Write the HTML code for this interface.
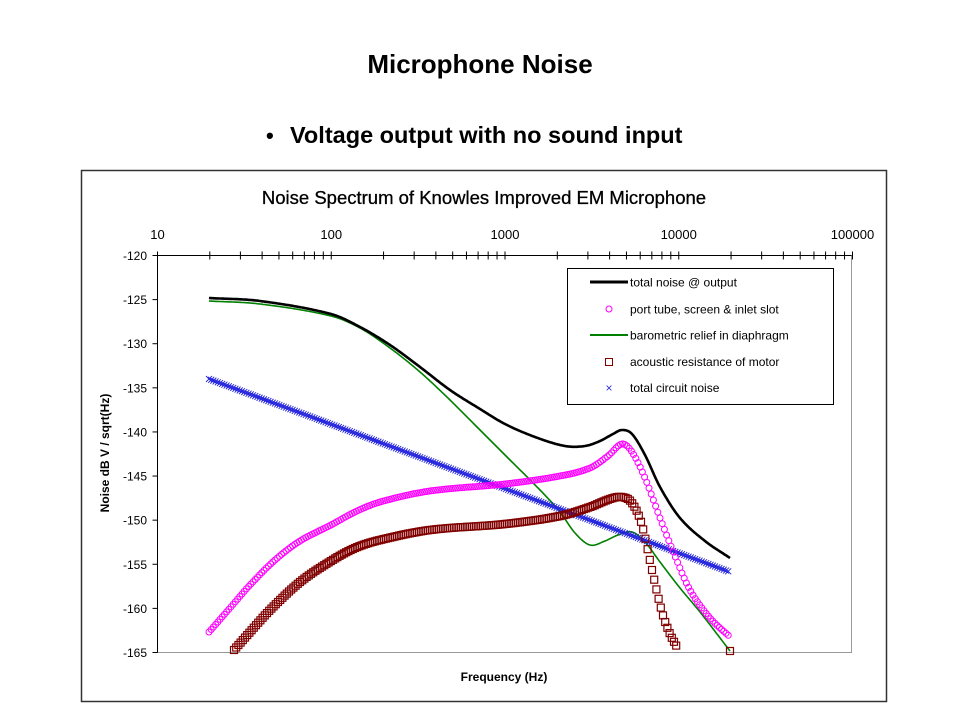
<!DOCTYPE html>
<html><head><meta charset="utf-8"><style>
body{margin:0;background:#fff;width:960px;height:720px;overflow:hidden;font-family:"Liberation Sans",Arial,sans-serif}
</style></head><body>
<svg id="s" width="960" height="720" xmlns="http://www.w3.org/2000/svg" font-family="Liberation Sans, Arial, sans-serif">
<text x="480" y="73" text-anchor="middle" font-size="26" font-weight="bold">Microphone Noise</text>
<text x="266" y="143" font-size="22" font-weight="bold">•</text>
<text x="290" y="143" font-size="23.5" font-weight="bold">Voltage output with no sound input</text>
<rect x="81.5" y="170.5" width="805" height="531" fill="none" stroke="#333" stroke-width="1.5"/>
<text x="484" y="204" text-anchor="middle" font-size="18.5" stroke="#000" stroke-width="0.3">Noise Spectrum of Knowles Improved EM Microphone</text>
<rect x="157.5" y="255.5" width="694" height="397" fill="none" stroke="#999" stroke-width="1"/>
<g id="ax"></g>
<g id="data"></g>
<text transform="translate(109,453) rotate(-90)" text-anchor="middle" font-size="12" font-weight="bold">Noise dB V / sqrt(Hz)</text>
<text x="504" y="681" text-anchor="middle" font-size="12" font-weight="bold">Frequency (Hz)</text>
<rect x="567.5" y="268.5" width="266" height="136" fill="#fff" stroke="#000"/>
<line x1="590" y1="282" x2="628" y2="282" stroke="#000" stroke-width="3"/>
<text x="630" y="286.5" font-size="12">total noise @ output</text>
<circle cx="609" cy="309" r="3" fill="none" stroke="#ff00ff"/>
<text x="630" y="313.5" font-size="12">port tube, screen &amp; inlet slot</text>
<line x1="590" y1="335" x2="628" y2="335" stroke="#008000" stroke-width="2"/>
<text x="630" y="339.5" font-size="12">barometric relief in diaphragm</text>
<rect x="605.5" y="358.5" width="7" height="7" fill="none" stroke="#800000"/>
<text x="630" y="366" font-size="12">acoustic resistance of motor</text>
<text x="609" y="392" font-size="12" fill="#3333cc" text-anchor="middle">×</text>
<text x="630" y="392" font-size="12">total circuit noise</text>
</svg>
<script>
var NS="http://www.w3.org/2000/svg";
function el(p,t,a,txt){var e=document.createElementNS(NS,t);for(var k in a)e.setAttribute(k,a[k]);if(txt!==undefined)e.textContent=txt;p.appendChild(e);return e;}
var ax=document.getElementById('ax'),dg=document.getElementById('data');
var X0=157.5,DEC=173.75,Y0=255.5,PDB=8.822;
el(ax,'line',{x1:X0,y1:Y0,x2:851.5,y2:Y0,stroke:'#000'});
el(ax,'line',{x1:X0,y1:Y0,x2:X0,y2:652.5,stroke:'#000'});
var labs=['10','100','1000','10000','100000'];
for(var d=0;d<=4;d++){var x=X0+d*DEC;el(ax,'text',{x:x,y:239,'text-anchor':'middle','font-size':13},labs[d]);
 if(d<4)for(var m=1;m<=9;m++){var xx=X0+(d+Math.log10(m))*DEC;el(ax,'line',{x1:xx,y1:Y0-4,x2:xx,y2:Y0+4,stroke:'#000'});}}
el(ax,'line',{x1:X0+4*DEC,y1:Y0-4,x2:X0+4*DEC,y2:Y0+4,stroke:'#000'});
for(var v=0;v<=9;v++){var y=Y0+v*5*PDB;el(ax,'line',{x1:X0-5,y1:y,x2:X0,y2:y,stroke:'#000'});
 el(ax,'text',{x:147,y:y+4.5,'text-anchor':'end','font-size':12},String(-120-5*v));}
function interp(pts,x){for(var i=0;i<pts.length-1;i++){if(x<=pts[i+1][0]){var a=pts[i],b=pts[i+1];var t=(x-a[0])/(b[0]-a[0]);
 var p0=pts[Math.max(i-1,0)],p3=pts[Math.min(i+2,pts.length-1)];
 var m1=(b[1]-p0[1])/(b[0]-p0[0])*(b[0]-a[0]),m2=(p3[1]-a[1])/(p3[0]-a[0])*(b[0]-a[0]);
 var t2=t*t,t3=t2*t;return (2*t3-3*t2+1)*a[1]+(t3-2*t2+t)*m1+(-2*t3+3*t2)*b[1]+(t3-t2)*m2;}}return pts[pts.length-1][1];}
var black=[[209,298],[260,301],[331,314],[360,327],[390,345],[420,367],[450,390],[480,409],[505,424],[535,437],[565,446],[585,446],[600,441],[613,434],[622,430],[632,434],[645,455],[660,487],[680,518],[705,541],[730,558]];
var green=[[209,301],[260,304],[331,316],[360,328],[390,348],[420,372],[450,400],[480,430],[505,455],[540,490],[560,512],[575,533],[590,545],[605,541],[618,535],[632,532],[645,542],[660,562],[680,588],[700,612],[730,651]];
var mag=[[209,632],[230,608],[250,585],[275,560],[300,541],[331,525],[355,512],[380,502],[430,491],[505,484],[560,476],[590,468],[608,456],[622,444],[632,452],[645,478],[660,518],[675,556],[690,590],[710,618],[730,637]];
var brn=[[234,650],[250,632],[270,610],[300,582],[331,561],[355,548],[380,540],[430,530],[505,524],[560,516],[590,507],[610,499],[622,497],[632,503],[642,525],[652,570],[662,612],[670,634],[677,647]];
function path(pts,col,w){var d='';for(var x=pts[0][0];x<=pts[pts.length-1][0];x+=1){d+=(d?'L':'M')+x+' '+interp(pts,x).toFixed(1);}el(dg,'path',{d:d,fill:'none',stroke:col,'stroke-width':w});}
path(green,'#008000',1.6);
var bl='';for(var x=209;x<=730;x+=2.2){var y=379+(x-209)*(572-379)/(730-209);bl+='M'+(x-3)+' '+(y-3)+'L'+(x+3)+' '+(y+3)+'M'+(x-3)+' '+(y+3)+'L'+(x+3)+' '+(y-3);}
el(dg,'path',{d:bl,fill:'none',stroke:'#2222dd','stroke-width':0.9});
var g=el(dg,'g',{fill:'none',stroke:'#ff00ff','stroke-width':1});
for(var x=209;x<=730;x+=2.2){el(g,'circle',{cx:x,cy:interp(mag,x).toFixed(1),r:3});}
var g2=el(dg,'g',{fill:'none',stroke:'#800000','stroke-width':1.2});
for(var x=234;x<=677;x+=2.2){var y=interp(brn,x);el(g2,'rect',{x:x-3.5,y:(y-3.5).toFixed(1),width:7,height:7});}
el(g2,'rect',{x:726.5,y:647.5,width:7,height:7});
path(black,'#000',2.6);
</script>
</body></html>
